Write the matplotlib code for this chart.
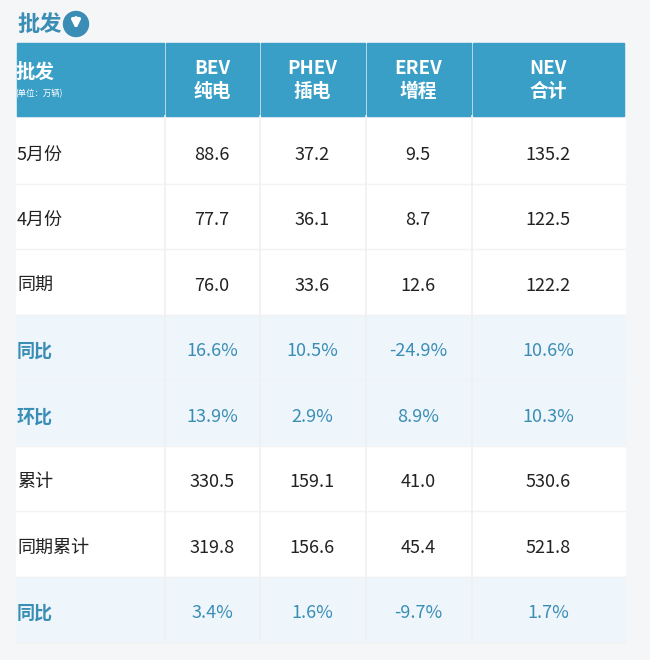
import matplotlib.pyplot as plt
from matplotlib.patches import Rectangle, Circle

plt.rcParams['font.family'] = ['Noto Sans CJK SC', 'DejaVu Sans']

# Table data
columns = ["BEV\n纯电", "PHEV\n插电", "EREV\n增程", "NEV\n合计"]
row_labels = ["5月份", "4月份", "同期", "同比", "环比", "累计", "同期累计", "同比"]
bev = ["88.6", "77.7", "76.0", "16.6%", "13.9%", "330.5", "319.8", "3.4%"]
phev = ["37.2", "36.1", "33.6", "10.5%", "2.9%", "159.1", "156.6", "1.6%"]
erev = ["9.5", "8.7", "12.6", "-24.9%", "8.9%", "41.0", "45.4", "-9.7%"]
nev = ["135.2", "122.5", "122.2", "10.6%", "10.3%", "530.6", "521.8", "1.7%"]
highlight = [False, False, False, True, True, False, False, True]

HEADER = "#3a9fc6"
ACCENT = "#3a8db5"

fig = plt.figure(figsize=(6.5, 6.6), dpi=100)
fig.patch.set_facecolor("#f4f6f7")
ax = fig.add_axes([0, 0, 1, 1])
ax.set_xlim(0, 650)
ax.set_ylim(660, 0)
ax.axis("off")

left, right = 16, 625
col_edges = [16, 165, 260, 366, 472, 625]
col_centers = [212, 312, 418, 548]
header_top, header_bot = 43, 116
row_h = 65.5

# title
ax.text(17, 24, "批发", fontsize=16, fontweight="bold", color=ACCENT, va="center")
ax.add_patch(Circle((76, 24), 12.5, color=ACCENT))
ax.annotate("", xy=(76, 32), xytext=(76, 15),
            arrowprops=dict(arrowstyle="-|>", color="white", lw=2.5, mutation_scale=12))

# header cells
for i in range(5):
    ax.add_patch(Rectangle((col_edges[i] + 1, header_top), col_edges[i + 1] - col_edges[i] - 2,
                           header_bot - header_top, color=HEADER))
ax.text(15, 72, "批发", fontsize=14, fontweight="bold", color="white", va="center")
ax.text(15, 94, "(单位：万辆)", fontsize=6, color="white", va="center")
for c, x in zip(columns, col_centers):
    ax.text(x, 80, c, fontsize=13.5, fontweight="bold", color="white",
            ha="center", va="center", linespacing=1.25)

# body rows
values = list(zip(bev, phev, erev, nev))
for r, label in enumerate(row_labels):
    y0 = header_bot + 2 + r * row_h
    yc = y0 + row_h / 2 + 4
    bg = "#eef6fc" if highlight[r] else "white"
    ax.add_patch(Rectangle((left, y0), right - left, row_h, color=bg, zorder=0))
    ax.plot([left, right], [y0 + row_h, y0 + row_h], color="#f0f2f3", lw=1, zorder=1)
    color = ACCENT if highlight[r] else "#222222"
    ax.text(17, yc, label, fontsize=13, color=color, va="center",
            fontweight="bold" if highlight[r] else "normal")
    for x, v in zip(col_centers, values[r]):
        ax.text(x, yc, v, fontsize=13, color=color, ha="center", va="center")

for x in col_edges[1:-1]:
    ax.plot([x, x], [header_bot, header_bot + 8 * row_h], color="#eef0f1", lw=1.2, zorder=1)

fig.savefig("out.png", dpi=100, facecolor=fig.get_facecolor())
